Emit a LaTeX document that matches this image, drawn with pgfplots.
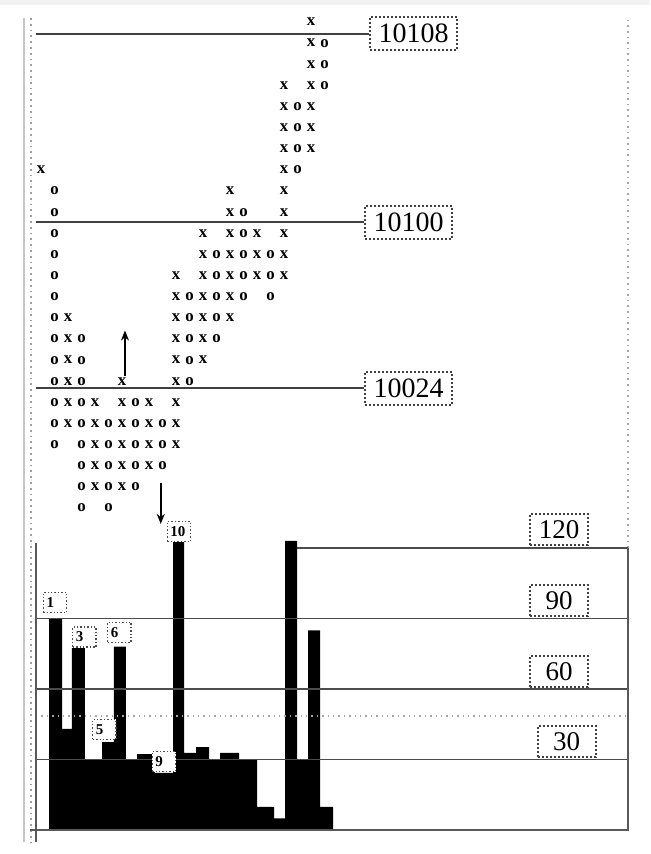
\documentclass[border=0pt]{standalone}
\usepackage{pgfplots}
\pgfplotsset{compat=1.18}
\usepackage{fontspec}
\setmainfont{Liberation Serif}
\usetikzlibrary{arrows.meta}

\tikzset{
  pbox/.style={draw=black!75, densely dotted, line width=1pt, fill=white,
    font=\fontsize{14}{16}\selectfont, inner sep=0pt, minimum width=43.5pt, minimum height=16.5pt},
  vbox/.style={draw=black!75, densely dotted, line width=1pt, fill=white,
    font=\fontsize{13.5}{15}\selectfont, inner sep=0pt, minimum width=29pt, minimum height=15.5pt},
  nbox/.style={draw=black!70, densely dotted, line width=0.7pt, fill=white,
    font=\bfseries\fontsize{7.5}{8}\selectfont, inner sep=1.6pt, text width=8.5pt, align=left, minimum height=10pt},
}

\begin{document}
\begin{tikzpicture}
% canvas and frame decorations (pixel units)
\begin{scope}[x=0.5pt,y=-0.5pt]
  \path (0,0) rectangle (650,854);
  \fill[gray!10] (0,0) rectangle (650,5);
  \draw[gray!45, line width=0.9pt] (24,18) -- (24,842);
  \draw[gray!75, dotted, line width=0.9pt] (31,18) -- (31,842);
\end{scope}

% ---------------- Point & figure chart ----------------
\begin{axis}[
  at={(18pt,-274pt)}, anchor=south west,
  width=296pt, height=267pt, scale only axis,
  xmin=-0.37, xmax=43.48, ymin=-0.379, ymax=24.89, y dir=reverse,
  hide axis, clip=false,
]
% price lines
\addplot[black!75, line width=1pt] coordinates {(-0.37,0.568) (24.3,0.568)};
\addplot[black!75, line width=1pt] coordinates {(-0.37,9.465) (23.93,9.465)};
\addplot[black!75, line width=1pt] coordinates {(-0.37,17.32) (23.93,17.32)};
\node[pbox, anchor=west] at (axis cs:24.3,0.544) {10108};
\node[pbox, anchor=west] at (axis cs:23.93,9.465) {10100};
\node[pbox, anchor=west] at (axis cs:23.93,17.32) {10024};

% X columns
\addplot[only marks, mark=text, text mark={x}, text mark as node=true,
  text mark style={font=\bfseries\fontsize{8.4}{9}\selectfont, inner sep=0pt, anchor=center}]
coordinates {
(0,7)
(2,14)(2,15)(2,16)(2,17)(2,18)(2,19)
(4,18)(4,19)(4,20)(4,21)(4,22)
(6,17)(6,18)(6,19)(6,20)(6,21)(6,22)
(8,18)(8,19)(8,20)(8,21)
(10,12)(10,13)(10,14)(10,15)(10,16)(10,17)(10,18)(10,19)(10,20)
(12,10)(12,11)(12,12)(12,13)(12,14)(12,15)(12,16)
(14,8)(14,9)(14,10)(14,11)(14,12)(14,13)(14,14)
(16,10)(16,11)(16,12)
(18,3)(18,4)(18,5)(18,6)(18,7)(18,8)(18,9)(18,10)(18,11)(18,12)
(20,0)(20,1)(20,2)(20,3)(20,4)(20,5)(20,6)
};
% O columns
\addplot[only marks, mark=text, text mark={o}, text mark as node=true,
  text mark style={font=\bfseries\fontsize{8.4}{9}\selectfont, inner sep=0pt, anchor=center}]
coordinates {
(1,8)(1,9)(1,10)(1,11)(1,12)(1,13)(1,14)(1,15)(1,16)(1,17)(1,18)(1,19)(1,20)
(3,15)(3,16)(3,17)(3,18)(3,19)(3,20)(3,21)(3,22)(3,23)
(5,19)(5,20)(5,21)(5,22)(5,23)
(7,18)(7,19)(7,20)(7,21)(7,22)
(9,19)(9,20)(9,21)
(11,13)(11,14)(11,15)(11,16)(11,17)
(13,11)(13,12)(13,13)(13,14)(13,15)
(15,9)(15,10)(15,11)(15,12)(15,13)
(17,11)(17,12)(17,13)
(19,4)(19,5)(19,6)(19,7)
(21,1)(21,2)(21,3)
};
% arrows
\draw[line width=1pt, -{Stealth[length=5pt,width=4pt]}] (axis cs:6.22,16.75) -- (axis cs:6.22,14.6);
\draw[line width=1pt, -{Stealth[length=5pt,width=4pt]}] (axis cs:8.87,21.8) -- (axis cs:8.87,23.75);
% right dotted border
\draw[gray!70, dotted, line width=0.8pt] (axis cs:43.48,-0.1) -- (axis cs:43.48,24.89);
\end{axis}

% ---------------- Volume bars ----------------
\begin{axis}[
  at={(18pt,-415pt)}, anchor=south west,
  width=296pt, height=141pt, scale only axis,
  xmin=-0.37, xmax=43.48, ymin=0, ymax=120,
  hide axis, clip=false,
]
\addplot[ybar interval, fill=black, draw=none] coordinates {
(0.593,90) (1.556,43) (2.296,77.4) (3.259,30) (4.519,37.4) (5.407,78)
(6.296,30) (7.111,32.3) (8.444,24.3) (9.778,122.5) (10.593,32.8)
(11.481,35.3) (12.444,30) (13.259,32.8) (14.667,30) (16.0,9.8)
(17.259,5) (18.074,123) (18.963,30) (19.778,85) (20.667,9.8) (21.630,0)
};
% reference lines
\addplot[black!70, line width=0.8pt] coordinates {(-0.37,30) (43.48,30)};
\addplot[black!70, line width=0.8pt] coordinates {(-0.37,60) (43.48,60)};
\addplot[black!70, line width=0.8pt] coordinates {(-0.37,90) (43.48,90)};
\addplot[black!70, line width=0.8pt] coordinates {(18.96,120) (43.48,120)};
\addplot[gray!70, dotted, line width=0.7pt] coordinates {(-0.37,48.5) (43.48,48.5)};
% frame
\draw[black!65, line width=1.1pt] (axis cs:-0.8,0) -- (axis cs:43.48,0) -- (axis cs:43.48,120);
\draw[black!65, line width=1pt] (axis cs:-0.37,-5) -- (axis cs:-0.37,122);
% level labels
\node[vbox, anchor=south] at (axis cs:38.37,120.8) {120};
\node[vbox, anchor=south] at (axis cs:38.37,90.6) {90};
\node[vbox, anchor=south] at (axis cs:38.37,60.4) {60};
\node[vbox, anchor=south] at (axis cs:38.93,30.6) {30};
% bar number labels
\node[nbox, anchor=south] at (axis cs:1.04,92.3) {1};
\node[nbox, anchor=south] at (axis cs:3.22,77.6) {3};
\node[nbox, anchor=south] at (axis cs:4.70,38.3) {5};
\node[nbox, anchor=south] at (axis cs:5.81,79.6) {6};
\node[nbox, anchor=south] at (axis cs:9.11,24.5) {9};
\node[nbox, anchor=south] at (axis cs:10.22,122.5) {10};
\end{axis}
\end{tikzpicture}
\end{document}
